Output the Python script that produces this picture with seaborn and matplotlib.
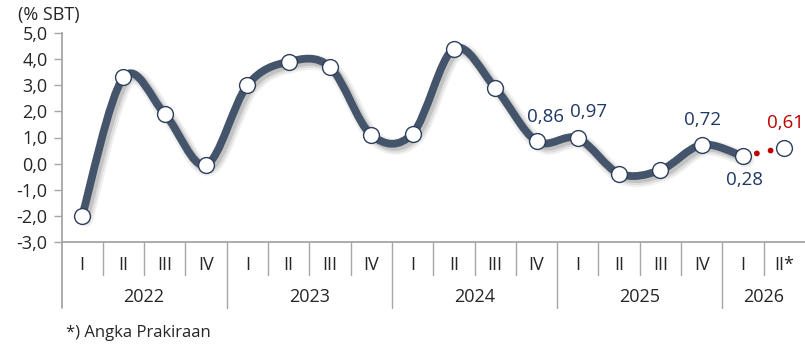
import numpy as np
import matplotlib
matplotlib.use("Agg")
import matplotlib.pyplot as plt
import matplotlib.patheffects as pe
from matplotlib.path import Path
from matplotlib.patches import PathPatch
import matplotlib.transforms as mtrans
import seaborn as sns

# ---------------- data ----------------
quarters = ["I", "II", "III", "IV", "I", "II", "III", "IV", "I", "II", "III", "IV",
            "I", "II", "III", "IV", "I", "II*"]
years = ["2022", "2023", "2024", "2025", "2026"]
year_sizes = [4, 4, 4, 4, 2]
values = [-2.0, 3.3, 1.9, -0.05, 3.0, 3.9, 3.7, 1.1, 1.15, 4.4, 2.9, 0.86,
          0.97, -0.38, -0.25, 0.72, 0.28, 0.61]
labels = {11: "0,86", 12: "0,97", 15: "0,72", 16: "0,28", 17: "0,61"}
n_actual = 17  # points 0..16 are actual, last one is a forecast

# ---------------- style ----------------
sns.set_style("white")
plt.rcParams["font.family"] = ["Open Sans", "DejaVu Sans"]

LINE = "#44546A"
EDGE = "#2E3E5C"
NAVY = "#1F3864"
RED = "#C00000"
GRAY = "#A6A6A6"
TXT = "#262626"

fig = plt.figure(figsize=(8.05, 3.47), dpi=100)
ax = fig.add_axes([61.5 / 805, 1 - 242 / 347, 1 - 61.5 / 805, 209 / 347])

x = np.arange(len(values))
y = np.array(values, dtype=float)

# smooth (Excel-like) curve through actual points via cubic Bezier path
xa, ya = x[:n_actual], y[:n_actual]
verts = [(xa[0], ya[0])]
codes = [Path.MOVETO]
for i in range(n_actual - 1):
    p0 = np.array([xa[max(i - 1, 0)], ya[max(i - 1, 0)]])
    p1 = np.array([xa[i], ya[i]])
    p2 = np.array([xa[i + 1], ya[i + 1]])
    p3 = np.array([xa[min(i + 2, n_actual - 1)], ya[min(i + 2, n_actual - 1)]])
    c1 = p1 + (p2 - p0) / 6.0
    c2 = p2 - (p3 - p1) / 6.0
    verts += [tuple(c1), tuple(c2), tuple(p2)]
    codes += [Path.CURVE4] * 3
patch = PathPatch(Path(verts, codes), fill=False, edgecolor=LINE, lw=5.6,
                  capstyle="round", joinstyle="round", zorder=3)
patch.set_path_effects([
    pe.SimpleLineShadow(offset=(2.5, -2.5), shadow_color="#000000", alpha=0.06, linewidth=11),
    pe.SimpleLineShadow(offset=(2.5, -2.5), shadow_color="#000000", alpha=0.08, linewidth=8),
    pe.SimpleLineShadow(offset=(2.0, -2.0), shadow_color="#000000", alpha=0.12, linewidth=6),
    pe.Normal(),
])
ax.add_patch(patch)

# forecast segment: red dotted
sns.lineplot(x=x[n_actual - 1:], y=y[n_actual - 1:], ax=ax, color=RED, lw=4.2,
             zorder=3, legend=False)
fl = ax.lines[-1]
fl.set_linestyle((0, (0.01, 2.4)))
fl.set_dash_capstyle("round")

# markers
sns.scatterplot(x=x, y=y, ax=ax, s=130, color="white", edgecolor=EDGE,
                linewidth=1.0, zorder=5, legend=False)

# data labels
offsets = {11: (9, 24), 12: (11, 26), 15: (1, 25), 16: (1, -24), 17: (1, 25)}
for i, txt in labels.items():
    dx, dy = offsets[i]
    ax.annotate(txt, (x[i], y[i]), xytext=(dx * 0.72, dy * 0.72),
                textcoords="offset points", ha="center", va="center",
                fontsize=13.5, color=RED if i >= n_actual else NAVY, zorder=6)

# axes
ax.set_xlim(-0.5, len(values) - 0.5)
ax.set_ylim(-3, 5)
ax.set_yticks(np.arange(-3, 5.01, 1))
ax.set_yticklabels([f"{v:.1f}".replace(".", ",") for v in np.arange(-3, 5.01, 1)],
                   fontsize=13, color=TXT)
ax.tick_params(axis="y", left=True, length=6, width=1, color=GRAY, pad=4)
ax.set_xticks([])
for s in ["top", "right"]:
    ax.spines[s].set_visible(False)
for s in ["left", "bottom"]:
    ax.spines[s].set_color(GRAY)
    ax.spines[s].set_linewidth(1.3)
ax.set_xlabel("")
ax.set_ylabel("")

# multi-level category axis
blend = mtrans.blended_transform_factory(ax.transData, ax.transAxes)
for i, q in enumerate(quarters):
    ax.text(x[i], -0.110, q, transform=blend, ha="center", va="center",
            fontsize=13, color=TXT)
bounds = np.cumsum([0] + year_sizes)
for i in range(1, len(values)):
    long_sep = i in bounds
    ax.plot([i - 0.5, i - 0.5], [0, -0.316 if long_sep else -0.158],
            transform=blend, color=GRAY, lw=1, clip_on=False)
ax.plot([-0.5, -0.5], [0, -0.316], transform=blend, color=GRAY, lw=1.3, clip_on=False)
for k, yr in enumerate(years):
    cx = (bounds[k] + bounds[k + 1]) / 2 - 0.5
    ax.text(cx, -0.263, yr, transform=blend, ha="center", va="center",
            fontsize=13, color=TXT)

fig.text(18 / 805, 1 - 15 / 347, "(% SBT)", fontsize=13, color=TXT, va="center", ha="left")
fig.text(66 / 805, 1 - 333 / 347, "*) Angka Prakiraan", fontsize=12, color=TXT,
         va="center", ha="left")

fig.savefig("out.png", dpi=100)
